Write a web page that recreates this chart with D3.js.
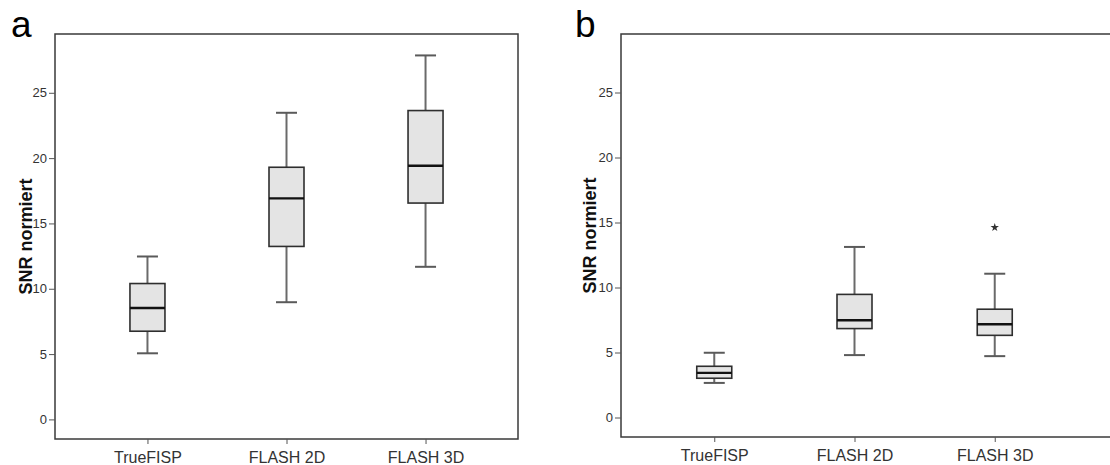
<!DOCTYPE html>
<html>
<head>
<meta charset="utf-8">
<script src="https://cdn.jsdelivr.net/npm/d3@7"></script>
<style>
  body { margin: 0; background: #fff; }
  svg { display: block; font-family: "Liberation Sans", Arial, sans-serif; }
  .tick text { fill: #333; }
</style>
</head>
<body>
<div id="chart"></div>
<script>
const categories = ["TrueFISP", "FLASH 2D", "FLASH 3D"];
const yTicks = [0, 5, 10, 15, 20, 25];

// panel a: five-number summaries per category
const aLow    = [5.06, 8.97, 11.68];
const aQ1     = [6.75, 13.24, 16.56];
const aMedian = [8.53, 16.92, 19.42];
const aQ3     = [10.4, 19.3, 23.64];
const aHigh   = [12.47, 23.47, 27.86];

// panel b
const bLow    = [2.66, 4.8, 4.72];
const bQ1     = [3.02, 6.84, 6.32];
const bMedian = [3.43, 7.48, 7.17];
const bQ3     = [3.94, 9.47, 8.33];
const bHigh   = [4.98, 13.12, 11.06];
const bOutliers = [{ category: "FLASH 3D", value: 14.62 }];

const W = 1110, H = 465;

const svg = d3.select("#chart").append("svg")
    .attr("width", W)
    .attr("height", H);

svg.append("rect").attr("width", W).attr("height", H).attr("fill", "#fff");

function toRows(low, q1, med, q3, high) {
    return categories.map((c, i) => ({
        category: c, low: low[i], q1: q1[i], median: med[i], q3: q3[i], high: high[i]
    }));
}

function drawPanel(opts) {
    const { left, right, top, bottom, rows, outliers, letter, letterX, titleX, frameRight } = opts;

    const x = d3.scalePoint()
        .domain(categories)
        .range([left, right])
        .padding(0.665);

    const y = d3.scaleLinear()
        .domain([-1.5, 29.5])
        .range([bottom, top]);

    const g = svg.append("g");

    // frame
    g.append("rect")
        .attr("x", left)
        .attr("y", top)
        .attr("width", frameRight - left)
        .attr("height", bottom - top)
        .attr("fill", "none")
        .attr("stroke", "#3a3a3a")
        .attr("stroke-width", 1.5);

    const yAxis = g.append("g")
        .attr("transform", `translate(${left},0)`)
        .call(d3.axisLeft(y).tickValues(yTicks).tickSize(6).tickPadding(2));
    yAxis.select(".domain").remove();
    yAxis.selectAll(".tick line").attr("stroke", "#555");
    yAxis.selectAll(".tick text").style("font-size", "13px");

    const xAxis = g.append("g")
        .attr("transform", `translate(0,${bottom})`)
        .call(d3.axisBottom(x).tickSize(5).tickPadding(8));
    xAxis.select(".domain").remove();
    xAxis.selectAll(".tick line").attr("stroke", "#555");
    xAxis.selectAll(".tick text").style("font-size", "16px").attr("fill", "#222");

    // y title
    g.append("text")
        .attr("transform", `translate(${titleX},${(top + bottom) / 2}) rotate(-90)`)
        .attr("text-anchor", "middle")
        .style("font-size", "18px")
        .style("font-weight", "bold")
        .attr("fill", "#111")
        .text("SNR normiert");

    // panel letter
    svg.append("text")
        .attr("x", letterX)
        .attr("y", 37)
        .style("font-size", "37px")
        .attr("fill", "#000")
        .text(letter);

    const boxW = 35, capW = 21;

    const boxes = g.selectAll(".box")
        .data(rows)
        .enter()
        .append("g")
        .attr("class", "box")
        .attr("transform", d => `translate(${x(d.category)},0)`);

    // whiskers
    boxes.append("line")
        .attr("y1", d => y(d.high)).attr("y2", d => y(d.q3))
        .attr("stroke", "#6a6a6a").attr("stroke-width", 2);
    boxes.append("line")
        .attr("y1", d => y(d.q1)).attr("y2", d => y(d.low))
        .attr("stroke", "#6a6a6a").attr("stroke-width", 2);
    boxes.append("line")
        .attr("x1", -capW / 2).attr("x2", capW / 2)
        .attr("y1", d => y(d.high)).attr("y2", d => y(d.high))
        .attr("stroke", "#5a5a5a").attr("stroke-width", 2);
    boxes.append("line")
        .attr("x1", -capW / 2).attr("x2", capW / 2)
        .attr("y1", d => y(d.low)).attr("y2", d => y(d.low))
        .attr("stroke", "#5a5a5a").attr("stroke-width", 2);

    boxes.append("rect")
        .attr("x", -boxW / 2)
        .attr("width", boxW)
        .attr("y", d => y(d.q3))
        .attr("height", d => y(d.q1) - y(d.q3))
        .attr("fill", "#e4e4e4")
        .attr("stroke", "#2e2e2e")
        .attr("stroke-width", 1.6);

    boxes.append("line")
        .attr("x1", -boxW / 2).attr("x2", boxW / 2)
        .attr("y1", d => y(d.median)).attr("y2", d => y(d.median))
        .attr("stroke", "#111").attr("stroke-width", 2.4);

    g.selectAll(".outlier")
        .data(outliers)
        .enter()
        .append("path")
        .attr("class", "outlier")
        .attr("d", d3.symbol(d3.symbolStar).size(22))
        .attr("transform", d => `translate(${x(d.category)},${y(d.value)})`)
        .attr("fill", "#333");
}

drawPanel({
    left: 55, right: 518, top: 34, bottom: 439, frameRight: 518,
    rows: toRows(aLow, aQ1, aMedian, aQ3, aHigh),
    outliers: [], letter: "a", letterX: 11, titleX: 32
});

drawPanel({
    left: 621, right: 1088, top: 34, bottom: 437, frameRight: 1125,
    rows: toRows(bLow, bQ1, bMedian, bQ3, bHigh),
    outliers: bOutliers, letter: "b", letterX: 575, titleX: 596
});
</script>
</body>
</html>
